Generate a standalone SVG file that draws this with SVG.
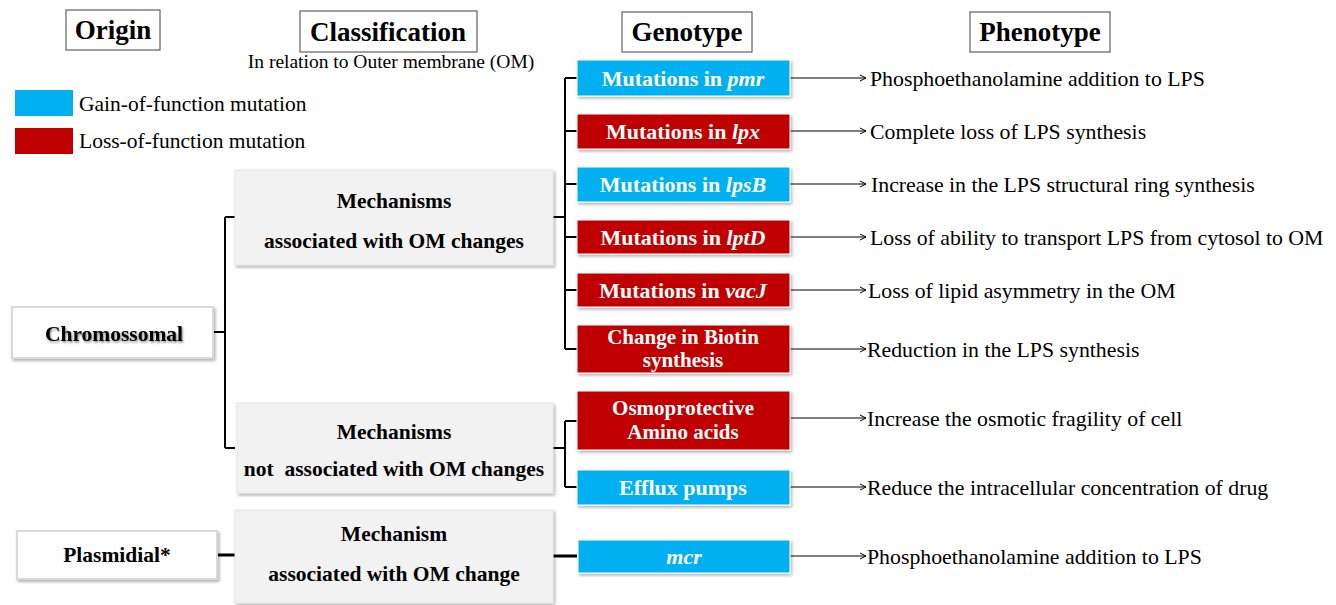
<svg xmlns="http://www.w3.org/2000/svg" width="1336" height="605" viewBox="0 0 1336 605">
<defs>
<style>
text{font-family:"Liberation Serif","Times New Roman",serif;}
.hdr{fill:#fff;stroke:#404040;stroke-width:1}
.ht{font-size:27px;font-weight:bold;fill:#000;text-anchor:middle}
.leg{font-size:21.5px;fill:#000}
.mech{fill:#f2f2f2;stroke:#e6e6e6;stroke-width:1}
.mt{font-size:21.5px;font-weight:bold;fill:#000;text-anchor:middle}
.org{fill:#fff;stroke:#d9d9d9;stroke-width:2}
.blue{fill:#00b0f0;stroke:#fff;stroke-width:1}
.red{fill:#c00000;stroke:#fff;stroke-width:1}
.gt{font-size:22px;font-weight:bold;fill:#fff;text-anchor:middle}
.gt2{font-size:21px;font-weight:bold;fill:#fff;text-anchor:middle}
.ph{font-size:21.8px;fill:#000}
.br{fill:none;stroke:#000;stroke-width:2}
.br3{fill:none;stroke:#000;stroke-width:3}
.ar{fill:none;stroke:#000;stroke-width:1;marker-end:url(#ah)}
</style>
<filter id="sh" x="-10%" y="-10%" width="130%" height="140%">
<feDropShadow dx="1.5" dy="2" stdDeviation="1.5" flood-color="#000" flood-opacity="0.3"/>
</filter>
<filter id="tsh" x="-10%" y="-30%" width="130%" height="170%">
<feDropShadow dx="1" dy="1.5" stdDeviation="1.2" flood-color="#000" flood-opacity="0.5"/>
</filter>
<marker id="ah" viewBox="0 0 10 10" refX="9" refY="5" markerWidth="10" markerHeight="10" markerUnits="userSpaceOnUse" orient="auto">
<path d="M3,2 L9,5 L3,8" fill="none" stroke="#000" stroke-width="1"/>
</marker>
</defs>
<rect width="1336" height="605" fill="#fff"/>

<g id="headers">
<rect class="hdr" x="66" y="10" width="94" height="40"/>
<text class="ht" x="113" y="39">Origin</text>
<rect class="hdr" x="300" y="11" width="177" height="41"/>
<text class="ht" x="388" y="41">Classification</text>
<text x="391" y="68" font-size="19.5" text-anchor="middle">In relation to Outer membrane (OM)</text>
<rect class="hdr" x="622" y="12" width="130" height="40"/>
<text class="ht" x="687" y="41">Genotype</text>
<rect class="hdr" x="970" y="12" width="140" height="40"/>
<text class="ht" x="1040" y="41">Phenotype</text>
</g>

<g id="legend">
<rect x="15" y="90" width="58" height="26" fill="#00b0f0"/>
<text class="leg" x="79" y="111">Gain-of-function mutation</text>
<rect x="15" y="128" width="58" height="26" fill="#c00000"/>
<text class="leg" x="79" y="148">Loss-of-function mutation</text>
</g>

<g id="connectors">
<path class="br" d="M213,332 H225 M225,217 V448 M225,217 H235 M225,448 H235"/>
<path class="br" d="M553,217 H565 M565,78 V349 M565,78 H577 M565,131 H577 M565,184 H577 M565,237 H577 M565,290 H577 M565,349 H577"/>
<path class="br" d="M553,448 H565 M565,421 V487 M565,421 H577 M565,487 H577"/>
<path class="br3" d="M218,555 H235 M553,556 H577"/>
<path class="ar" d="M790,78 H866"/>
<path class="ar" d="M790,131 H866"/>
<path class="ar" d="M790,184 H866"/>
<path class="ar" d="M790,237 H866"/>
<path class="ar" d="M790,290 H866"/>
<path class="ar" d="M790,349 H866"/>
<path class="ar" d="M790,418 H866"/>
<path class="ar" d="M790,487 H866"/>
<path class="ar" d="M790,556 H866"/>
</g>

<g id="chromossomal">
<rect class="org" x="12" y="307" width="201" height="51" filter="url(#sh)"/>
<text class="mt" x="114" y="341" font-size="22.3" filter="url(#tsh)">Chromossomal</text>
</g>
<g id="plasmidial">
<rect class="org" x="17" y="531" width="200" height="48" filter="url(#sh)"/>
<text class="mt" x="117" y="562">Plasmidial*</text>
</g>

<g id="mech1">
<rect class="mech" x="235" y="170" width="318" height="95" filter="url(#sh)"/>
<text class="mt" x="394" y="208">Mechanisms</text>
<text class="mt" x="394" y="248">associated with OM changes</text>
</g>
<g id="mech2">
<rect class="mech" x="237" y="403" width="316" height="90" filter="url(#sh)"/>
<text class="mt" x="394" y="439">Mechanisms</text>
<text class="mt" x="394" y="476" xml:space="preserve">not  associated with OM changes</text>
</g>
<g id="mech3">
<rect class="mech" x="235" y="510" width="318" height="93" filter="url(#sh)"/>
<text class="mt" x="394" y="541">Mechanism</text>
<text class="mt" x="394" y="581">associated with OM change</text>
</g>

<g id="g-pmr">
<rect class="blue" x="577" y="60" width="213" height="36" filter="url(#sh)"/>
<text class="gt" x="683" y="86">Mutations in <tspan font-style="italic">pmr</tspan></text>
</g>
<g id="g-lpx">
<rect class="red" x="577" y="114" width="213" height="35" filter="url(#sh)"/>
<text class="gt" x="683" y="139">Mutations in <tspan font-style="italic">lpx</tspan></text>
</g>
<g id="g-lpsB">
<rect class="blue" x="577" y="167" width="213" height="35" filter="url(#sh)"/>
<text class="gt" x="683" y="192">Mutations in <tspan font-style="italic">lpsB</tspan></text>
</g>
<g id="g-lptD">
<rect class="red" x="577" y="220" width="213" height="34" filter="url(#sh)"/>
<text class="gt" x="683" y="245">Mutations in <tspan font-style="italic">lptD</tspan></text>
</g>
<g id="g-vacJ">
<rect class="red" x="577" y="273" width="213" height="34" filter="url(#sh)"/>
<text class="gt" x="683" y="298">Mutations in <tspan font-style="italic">vacJ</tspan></text>
</g>
<g id="g-biotin">
<rect class="red" x="577" y="325" width="213" height="48" filter="url(#sh)"/>
<text class="gt2" x="683" y="344">Change in Biotin</text>
<text class="gt2" x="683" y="367">synthesis</text>
</g>
<g id="g-osmo">
<rect class="red" x="577" y="391" width="213" height="59" filter="url(#sh)"/>
<text class="gt2" x="683" y="415">Osmoprotective</text>
<text class="gt2" x="683" y="439">Amino acids</text>
</g>
<g id="g-efflux">
<rect class="blue" x="577" y="470" width="213" height="35" filter="url(#sh)"/>
<text class="gt" x="683" y="495">Efflux pumps</text>
</g>
<g id="g-mcr">
<rect class="blue" x="578" y="540" width="212" height="33" filter="url(#sh)"/>
<text class="gt" x="684" y="564" font-style="italic">mcr</text>
</g>

<g id="phenotypes">
<text class="ph" x="870" y="86">Phosphoethanolamine addition to LPS</text>
<text class="ph" x="870" y="139">Complete loss of LPS synthesis</text>
<text class="ph" x="871" y="192">Increase in the LPS structural ring synthesis</text>
<text class="ph" x="870" y="245">Loss of ability to transport LPS from cytosol to OM</text>
<text class="ph" x="868" y="298">Loss of lipid asymmetry in the OM</text>
<text class="ph" x="867" y="357">Reduction in the LPS synthesis</text>
<text class="ph" x="867" y="426">Increase the osmotic fragility of cell</text>
<text class="ph" x="867" y="495">Reduce the intracellular concentration of drug</text>
<text class="ph" x="867" y="564">Phosphoethanolamine addition to LPS</text>
</g>
</svg>
